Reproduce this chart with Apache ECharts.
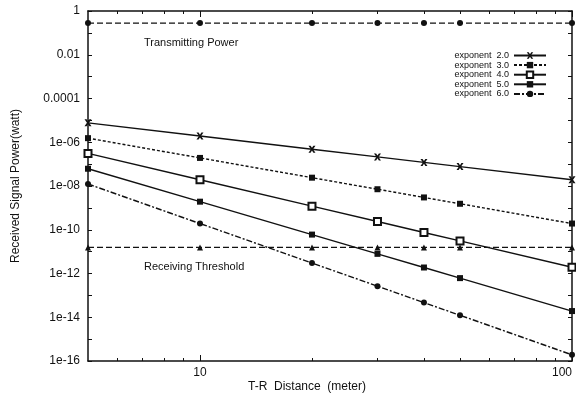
<!DOCTYPE html>
<html><head><meta charset="utf-8">
<script src="https://cdn.jsdelivr.net/npm/echarts@6/dist/echarts.min.js"></script>
<style>html,body{margin:0;padding:0;background:#fff}#c{width:576px;height:398px}</style>
</head><body><div id="c"></div>
<script>
const distances = [5, 10, 20, 30, 40, 50, 100];
const transmitPower = [0.2818, 0.2818, 0.2818, 0.2818, 0.2818, 0.2818, 0.2818];
const receiveThreshold = [1.559e-11, 1.559e-11, 1.559e-11, 1.559e-11, 1.559e-11, 1.559e-11, 1.559e-11];
const exp2 = [7.69e-6, 1.92e-6, 4.81e-7, 2.14e-7, 1.20e-7, 7.69e-8, 1.92e-8];
const exp3 = [1.54e-6, 1.92e-7, 2.40e-8, 7.12e-9, 3.00e-9, 1.54e-9, 1.92e-10];
const exp4 = [3.08e-7, 1.92e-8, 1.20e-9, 2.37e-10, 7.51e-11, 3.08e-11, 1.92e-12];
const exp5 = [6.15e-8, 1.92e-9, 6.01e-11, 7.91e-12, 1.88e-12, 6.15e-13, 1.92e-14];
const exp6 = [1.23e-8, 1.92e-10, 3.00e-12, 2.64e-13, 4.69e-14, 1.23e-14, 1.92e-16];
const seriesNames = ['exponent  2.0', 'exponent  3.0', 'exponent  4.0', 'exponent  5.0', 'exponent  6.0'];
const yTickLabels = ['1e-16', '1e-14', '1e-12', '1e-10', '1e-08', '1e-06', '0.0001', '0.01', '1'];
const xMajorTicks = [10, 100];
const xTickLabels = ['10', '100'];
const xMinorTicks = [6, 7, 8, 9, 20, 30, 40, 50, 60, 70, 80, 90];

const FONT = 'Liberation Sans';
const BLACK = '#111';
function pairs(vals) { return distances.map((d, i) => [d, vals[i]]); }
const crossPath = 'path://M0,0 L3,0 L5,3 L7,0 L10,0 L6.5,5 L10,10 L7,10 L5,7 L3,10 L0,10 L3.5,5 Z';

const chart = echarts.init(document.getElementById('c'), null, {renderer: 'canvas'});

function logXAxis(pos) {
  return {
    type: 'log', logBase: 10, min: 5, max: 100, position: pos,
    axisLine: {show: true, onZero: false, lineStyle: {color: BLACK, width: 1.5}},
    axisTick: {show: false}, axisLabel: {show: false},
    splitLine: {show: false}, minorTick: {show: false}
  };
}
function auxXAxis(pos, ticks, len, showLabel) {
  const vals = ticks.map(t => Math.log10(t));
  return {
    type: 'value', min: Math.log10(5), max: 2, position: pos,
    axisLine: {show: false},
    axisTick: {show: true, inside: true, length: len, customValues: vals, lineStyle: {color: BLACK, width: 1}},
    axisLabel: {show: showLabel, customValues: vals, color: BLACK, fontFamily: FONT, fontSize: 12, margin: 6,
      alignMaxLabel: 'right',
      formatter: v => { const i = xMajorTicks.findIndex(t => Math.abs(Math.log10(t) - v) < 1e-6); return i >= 0 ? xTickLabels[i] : ''; }},
    splitLine: {show: false}
  };
}
function logYAxis(pos, showLabel) {
  return {
    type: 'log', logBase: 10, min: 1e-16, max: 1, interval: 1, position: pos,
    name: showLabel ? 'Received Signal Power(watt)' : '', nameLocation: 'middle', nameGap: 66,
    nameTextStyle: {color: BLACK, fontFamily: FONT, fontSize: 12},
    axisLine: {show: true, onZero: false, lineStyle: {color: BLACK, width: 1.5}},
    axisTick: {show: true, inside: true, length: 4, lineStyle: {color: BLACK, width: 1}},
    axisLabel: {show: showLabel, color: BLACK, fontFamily: FONT, fontSize: 12, margin: 8,
      formatter: v => { const e = Math.round(Math.log10(v)); return (e % 2 === 0) ? yTickLabels[(e + 16) / 2] : ''; }},
    splitLine: {show: false}, minorTick: {show: false}
  };
}

function expSeries(idx, vals, lineType, symbol, size, extraItem) {
  return {
    name: seriesNames[idx], type: 'line', data: pairs(vals), xAxisIndex: 0, yAxisIndex: 0,
    symbol: symbol, symbolSize: size, showSymbol: true, clip: false, animation: false,
    lineStyle: {color: BLACK, width: 1.4, type: lineType},
    itemStyle: Object.assign({color: BLACK}, extraItem || {})
  };
}

chart.setOption({
  animation: false,
  backgroundColor: '#fff',
  grid: {left: 88, right: 4, top: 11, bottom: 37, containLabel: false, outerBoundsMode: 'none'},
  xAxis: [
    logXAxis('bottom'),
    auxXAxis('bottom', xMinorTicks, 3, false),
    auxXAxis('bottom', xMajorTicks, 6, true),
    logXAxis('top'),
    auxXAxis('top', xMinorTicks, 3, false),
    auxXAxis('top', xMajorTicks, 6, false)
  ],
  yAxis: [logYAxis('left', true), logYAxis('right', false)],
  legend: {
    show: true, orient: 'vertical', right: 24, top: 46, align: 'right',
    itemWidth: 32, itemHeight: 8, itemGap: 0.6,
    textStyle: {color: BLACK, fontFamily: FONT, fontSize: 9, lineHeight: 9, padding: [0, 0, 0, 0]},
    data: seriesNames
  },
  graphic: [
    {type: 'text', left: 144, top: 37, style: {text: 'Transmitting Power', fill: BLACK, font: '11px "Liberation Sans"'}},
    {type: 'text', left: 144, top: 261, style: {text: 'Receiving Threshold', fill: BLACK, font: '11px "Liberation Sans"'}},
    {type: 'text', left: 248, top: 381, style: {text: 'T-R  Distance  (meter)', fill: BLACK, font: '12px "Liberation Sans"'}}
  ],
  series: [
    {name: 'Transmitting Power', type: 'line', data: pairs(transmitPower), symbol: 'circle', symbolSize: 6, clip: false,
      lineStyle: {color: BLACK, width: 1.3, type: [6, 3]}, itemStyle: {color: BLACK}},
    {name: 'Receiving Threshold', type: 'line', data: pairs(receiveThreshold), symbol: 'triangle', symbolSize: 6, clip: false,
      lineStyle: {color: BLACK, width: 1.3, type: [6, 3]}, itemStyle: {color: BLACK}},
    expSeries(0, exp2, 'solid', crossPath, 7),
    expSeries(1, exp3, [3, 2], 'rect', 6),
    expSeries(2, exp4, 'solid', 'emptyRect', 7, {borderWidth: 2.2, borderColor: BLACK}),
    expSeries(3, exp5, 'solid', 'rect', 6),
    expSeries(4, exp6, [6, 2, 2, 2], 'circle', 6)
  ]
});
</script></body></html>
